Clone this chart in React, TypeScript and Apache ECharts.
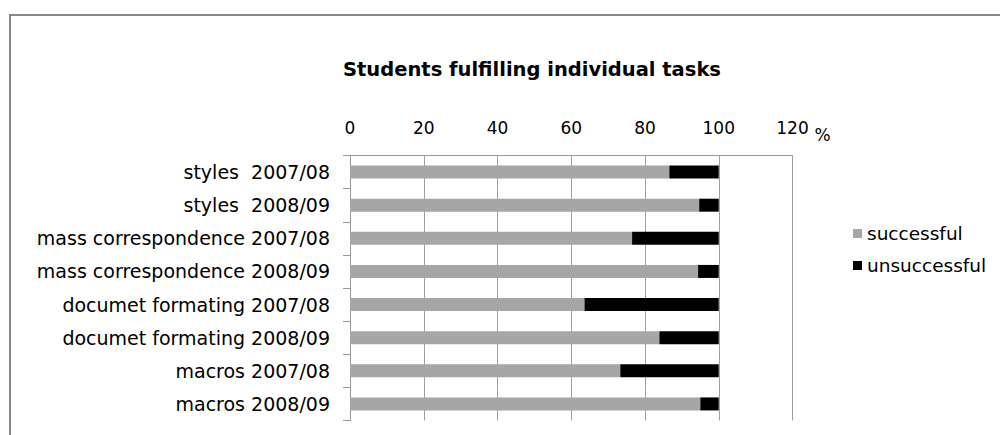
import React, { useEffect, useRef } from "react";
import * as echarts from "echarts";

const categories = [
  "styles  2007/08",
  "styles  2008/09",
  "mass correspondence 2007/08",
  "mass correspondence 2008/09",
  "documet formating 2007/08",
  "documet formating 2008/09",
  "macros 2007/08",
  "macros 2008/09",
];
const successful = [86.6, 94.7, 76.5, 94.4, 63.6, 83.9, 73.3, 95];
const unsuccessful = [13.4, 5.3, 23.5, 5.6, 36.4, 16.1, 26.7, 5];
const seriesNames = ["successful", "unsuccessful"];
const titleText = "Students fulfilling individual tasks";
const axisUnit = "%";

const FONT = "DejaVu Sans";

export default function App() {
  const ref = useRef<HTMLDivElement>(null);
  useEffect(() => {
    if (!ref.current) return;
    const chart = echarts.init(ref.current, undefined, { renderer: "svg" });
    chart.setOption({
      animation: false,
      backgroundColor: "#ffffff",
      textStyle: { fontFamily: FONT },
      title: {
        text: titleText,
        left: 343,
        top: 59,
        padding: 0,
        textStyle: { fontFamily: FONT, fontSize: 19.5, fontWeight: "bold", color: "#000" },
      },
      legend: {
        orient: "vertical",
        left: 848,
        top: 219,
        itemWidth: 9,
        itemHeight: 9,
        itemGap: 13,
        icon: "rect",
        data: seriesNames,
        textStyle: { fontFamily: FONT, fontSize: 18.5, color: "#000" },
      },
      graphic: [
        {
          type: "rect",
          shape: { x: 10, y: 15, width: 1000, height: 500 },
          style: { fill: "none", stroke: "#888888", lineWidth: 2 },
          silent: true,
        },
      ],
      grid: { left: 350, right: 207.5, top: 155.5, bottom: 14.5, containLabel: false },
      xAxis: {
        type: "value",
        position: "top",
        min: 0,
        max: 120,
        interval: 20,
        name: axisUnit,
        nameLocation: "end",
        nameGap: 22,
        nameTextStyle: { fontFamily: FONT, fontSize: 17, color: "#000", verticalAlign: "bottom", padding: [0, 0, 12, 0] },
        axisLine: { show: true, lineStyle: { color: "#999999", width: 1 } },
        axisTick: { show: false },
        axisLabel: { fontFamily: FONT, fontSize: 17, color: "#000", margin: 19 },
        splitLine: { show: true, lineStyle: { color: "#a0a0a0", width: 1 } },
      },
      yAxis: {
        type: "category",
        inverse: true,
        data: categories,
        axisLine: { show: true, lineStyle: { color: "#999999", width: 1 } },
        axisTick: { show: true, length: 7, lineStyle: { color: "#999999" } },
        axisLabel: { fontFamily: FONT, fontSize: 19, color: "#000", margin: 20 },
        splitLine: { show: false },
      },
      series: [
        {
          name: seriesNames[0],
          type: "bar",
          stack: "total",
          data: successful,
          barWidth: 13,
          itemStyle: { color: "#a6a6a6" },
        },
        {
          name: seriesNames[1],
          type: "bar",
          stack: "total",
          data: unsuccessful,
          barWidth: 13,
          itemStyle: { color: "#000000" },
        },
      ],
    });
    return () => chart.dispose();
  }, []);
  return (
    <div
      ref={ref}
      style={{ position: "fixed", left: 0, top: 0, width: 1000, height: 435 }}
    />
  );
}
